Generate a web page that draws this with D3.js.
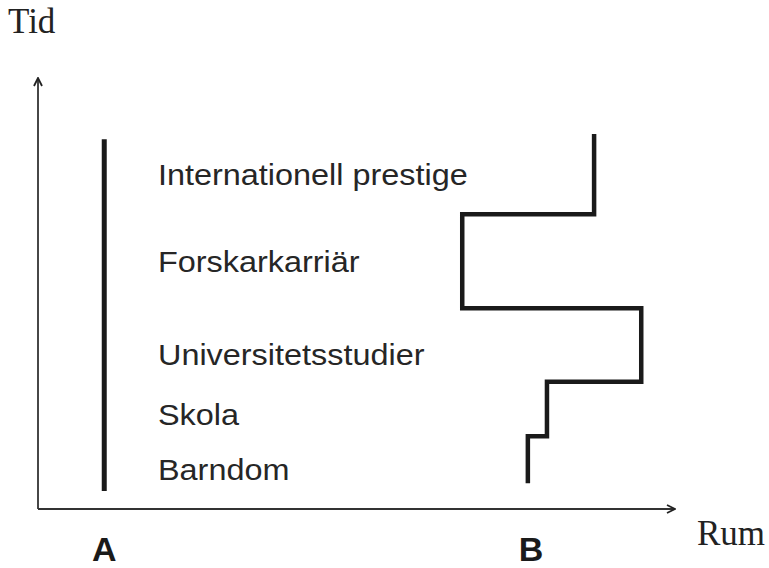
<!DOCTYPE html>
<html>
<head>
<meta charset="utf-8">
<script src="https://cdn.jsdelivr.net/npm/d3@7"></script>
<style>
  body { margin: 0; background: #fff; }
  svg { display: block; }
</style>
</head>
<body>
<div id="chart"></div>
<script>
// Life stages (labels, bottom to top) and the time at which each label sits
var stages = ["Barndom", "Skola", "Universitetsstudier", "Forskarkarriär", "Internationell prestige"];
var stageTime = [6.7, 19.5, 33.4, 55.0, 75.2];

// Path B: space taken at each step, and the times where it changes
var pathBSpace = [76.9, 79.9, 94.7, 66.6, 87.3];
var pathBTime = [6.0, 16.9, 29.5, 46.6, 68.4, 87.0];

// Path A: stays at one place the whole time
var pathASpace = 10.4;
var pathATime = [4.2, 85.8];

var width = 769;
var height = 568;

var x = d3.scaleLinear().domain([0, 100]).range([38, 675]);
var y = d3.scaleLinear().domain([0, 100]).range([509, 78]);

var svg = d3.select("#chart")
  .append("svg")
  .attr("width", width)
  .attr("height", height);

// Arrow marker for the axes
svg.append("defs").append("marker")
  .attr("id", "arrow")
  .attr("viewBox", "0 0 10 10")
  .attr("refX", 9)
  .attr("refY", 5)
  .attr("markerWidth", 10)
  .attr("markerHeight", 10)
  .attr("markerUnits", "userSpaceOnUse")
  .attr("orient", "auto")
  .append("path")
  .attr("d", "M1,1 L9,5 L1,9")
  .attr("fill", "none")
  .attr("stroke", "#222")
  .attr("stroke-width", 1.8);

// Axes
svg.append("line")
  .attr("x1", x(0)).attr("y1", y(0))
  .attr("x2", x(0)).attr("y2", y(100))
  .attr("stroke", "#333")
  .attr("stroke-width", 1.8)
  .attr("marker-end", "url(#arrow)");

svg.append("line")
  .attr("x1", x(0)).attr("y1", y(0))
  .attr("x2", x(100)).attr("y2", y(0))
  .attr("stroke", "#333")
  .attr("stroke-width", 1.8)
  .attr("marker-end", "url(#arrow)");

// Axis titles
svg.append("text")
  .attr("x", 8).attr("y", 33)
  .style("font-family", "'Liberation Serif', 'Times New Roman', serif")
  .style("font-size", "35px")
  .style("fill", "#222")
  .text("Tid");

svg.append("text")
  .attr("x", 697).attr("y", 545)
  .style("font-family", "'Liberation Serif', 'Times New Roman', serif")
  .style("font-size", "35px")
  .style("fill", "#222")
  .text("Rum");

// Path A
svg.append("line")
  .attr("x1", x(pathASpace)).attr("y1", y(pathATime[0]))
  .attr("x2", x(pathASpace)).attr("y2", y(pathATime[1]))
  .attr("stroke", "#1a1a1a")
  .attr("stroke-width", 5);

// Path B as a step line
var pts = [];
pathBSpace.forEach(function (s, i) {
  pts.push([x(s), y(pathBTime[i])]);
  pts.push([x(s), y(pathBTime[i + 1])]);
});

svg.append("path")
  .attr("d", d3.line()(pts))
  .attr("fill", "none")
  .attr("stroke", "#1a1a1a")
  .attr("stroke-width", 4.5)
  .attr("stroke-linejoin", "miter");

// Stage labels
svg.selectAll(".stage")
  .data(stages)
  .enter()
  .append("text")
  .attr("class", "stage")
  .attr("transform", (d, i) => "translate(158," + y(stageTime[i]) + ") scale(1.08,1)")
  .style("font-family", "'Liberation Sans', Arial, sans-serif")
  .style("font-size", "30px")
  .style("fill", "#262626")
  .text(d => d);

// A / B markers
svg.append("text")
  .attr("x", x(pathASpace)).attr("y", 561)
  .attr("text-anchor", "middle")
  .style("font-family", "'Liberation Sans', Arial, sans-serif")
  .style("font-weight", "bold")
  .style("font-size", "34px")
  .style("fill", "#1a1a1a")
  .text("A");

svg.append("text")
  .attr("x", 531).attr("y", 561)
  .attr("text-anchor", "middle")
  .style("font-family", "'Liberation Sans', Arial, sans-serif")
  .style("font-weight", "bold")
  .style("font-size", "34px")
  .style("fill", "#1a1a1a")
  .text("B");
</script>
</body>
</html>
